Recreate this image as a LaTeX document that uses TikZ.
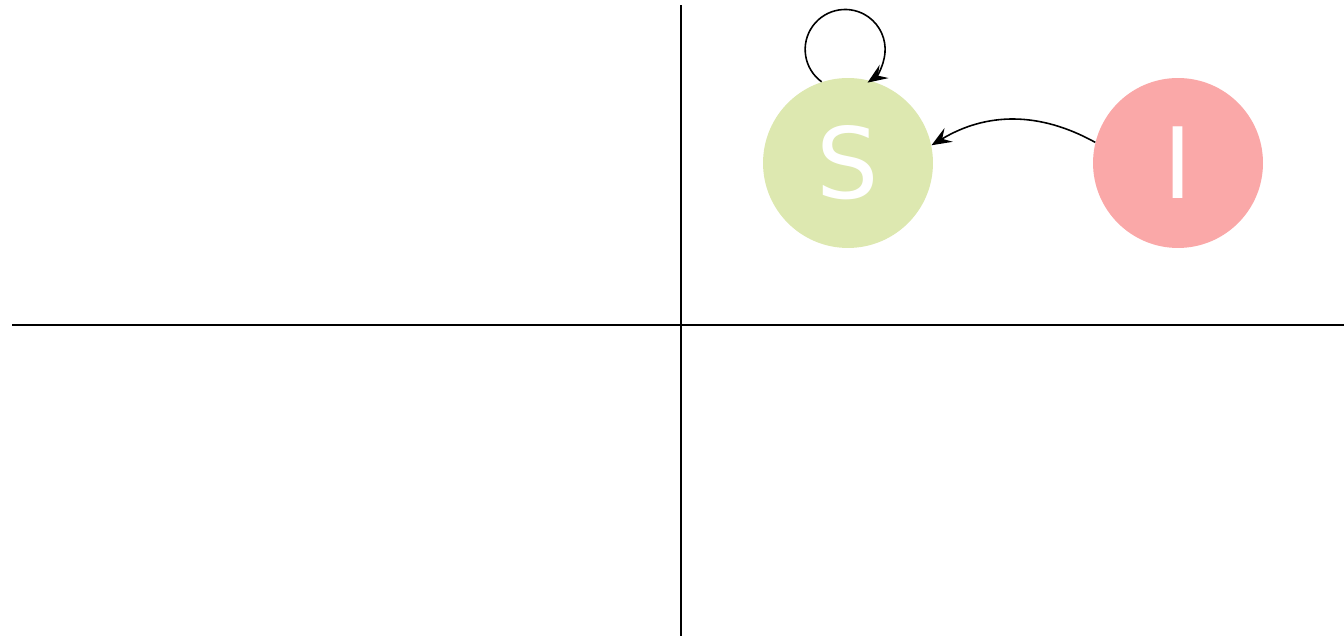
\documentclass[tikz,border=0pt]{standalone}
\usepackage{fontspec}
\setmainfont{DejaVu Sans}
\usetikzlibrary{arrows.meta}
\definecolor{sgreen}{RGB}{221,232,176}
\definecolor{ired}{RGB}{250,168,168}
\tikzset{
  axis/.style={line width=1.3pt, black},
  state/.style={circle, minimum size=3.4cm, inner sep=0pt, text=white,
    font=\fontsize{56}{60}\selectfont},
  arr/.style={line width=0.9pt, -{Stealth[length=4mm,width=3.2mm,inset=1.5mm]}}
}
\begin{document}
\begin{tikzpicture}[x=0.02cm,y=0.02cm]
\useasboundingbox (0,0) rectangle (1344,638);
\coordinate (vtop) at (681,633);
\coordinate (vbot) at (681,2);
\coordinate (hleft) at (12,313);
\coordinate (hright) at (1344,313);
\draw[axis] (vbot) -- (vtop);
\draw[axis] (hleft) -- (hright);
\node[state, fill=sgreen] (S) at (848,475) {S};
\node[state, fill=ired] (I) at (1178,475) {I};
\draw[arr] (S.108) arc[start angle=234, end angle=-56, radius=0.8cm];
\draw[arr] (I.166) to[bend right=30] (S.12);
\end{tikzpicture}
\end{document}
